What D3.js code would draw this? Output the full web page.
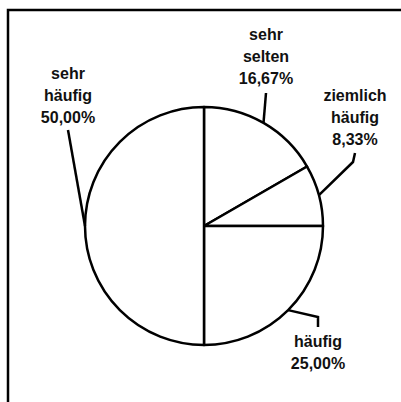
<!DOCTYPE html>
<html lang="de">

<head>
  <meta charset="UTF-8" />
  <title>Kreisdiagramm</title>
  <script src="https://d3js.org/d3.v7.min.js"></script>
  <style>
    body {
      margin: 0;
      background: #fff;
    }

    text {
      font-family: "Liberation Sans", Arial, sans-serif;
      font-weight: bold;
      font-size: 16px;
      fill: #111;
    }
  </style>
</head>

<body>
  <svg width="401" height="402"></svg>

  <script>
    // data
    const categories = ["sehr selten", "ziemlich häufig", "häufig", "sehr häufig"];
    const values = [16.67, 8.33, 25.00, 50.00];

    // label layout: text anchor (first baseline) and the leader's bend points
    const labelLayout = [
      { x: 266, y: 40, leader: [[266, 93]] },
      { x: 355, y: 101, leader: [[353, 162], [355, 153]] },
      { x: 318, y: 347, leader: [[318, 317], [318, 327]] },
      { x: 68, y: 79, leader: [[68, 130]] }
    ];

    const svg = d3.select("svg");
    const cx = 204, cy = 226, radius = 119;
    const lineH = 22;

    // frame (top and left edges only)
    svg.append("path")
      .attr("d", "M8,402 V10 H401")
      .attr("fill", "none")
      .attr("stroke", "#000")
      .attr("stroke-width", 2.5);

    const pie = d3.pie().sort(null).value(d => d.value);
    const arc = d3.arc().innerRadius(0).outerRadius(radius);
    const data = categories.map((c, i) => ({ name: c, value: values[i] }));
    const arcs = pie(data);

    const g = svg.append("g").attr("transform", `translate(${cx},${cy})`);
    g.selectAll("path.slice")
      .data(arcs)
      .enter()
      .append("path")
      .attr("class", "slice")
      .attr("d", arc)
      .attr("fill", "#fff")
      .attr("stroke", "#000")
      .attr("stroke-width", 2.5)
      .attr("stroke-linejoin", "round");

    const fmt = v => d3.format(".2f")(v).replace(".", ",") + "%";

    arcs.forEach((a, i) => {
      const lay = labelLayout[i];
      const mid = (a.startAngle + a.endAngle) / 2;
      const p0 = [cx + radius * Math.sin(mid), cy - radius * Math.cos(mid)];
      const pts = [p0].concat(lay.leader);
      svg.append("path")
        .attr("d", d3.line()(pts))
        .attr("fill", "none")
        .attr("stroke", "#000")
        .attr("stroke-width", 2.5);

      const lines = a.data.name.split(" ").concat([fmt(a.data.value)]);
      const t = svg.append("text")
        .attr("text-anchor", "middle")
        .attr("x", lay.x)
        .attr("y", lay.y);
      lines.forEach((l, j) => {
        t.append("tspan")
          .attr("x", lay.x)
          .attr("y", lay.y + j * lineH)
          .text(l);
      });
    });
  </script>
</body>

</html>
